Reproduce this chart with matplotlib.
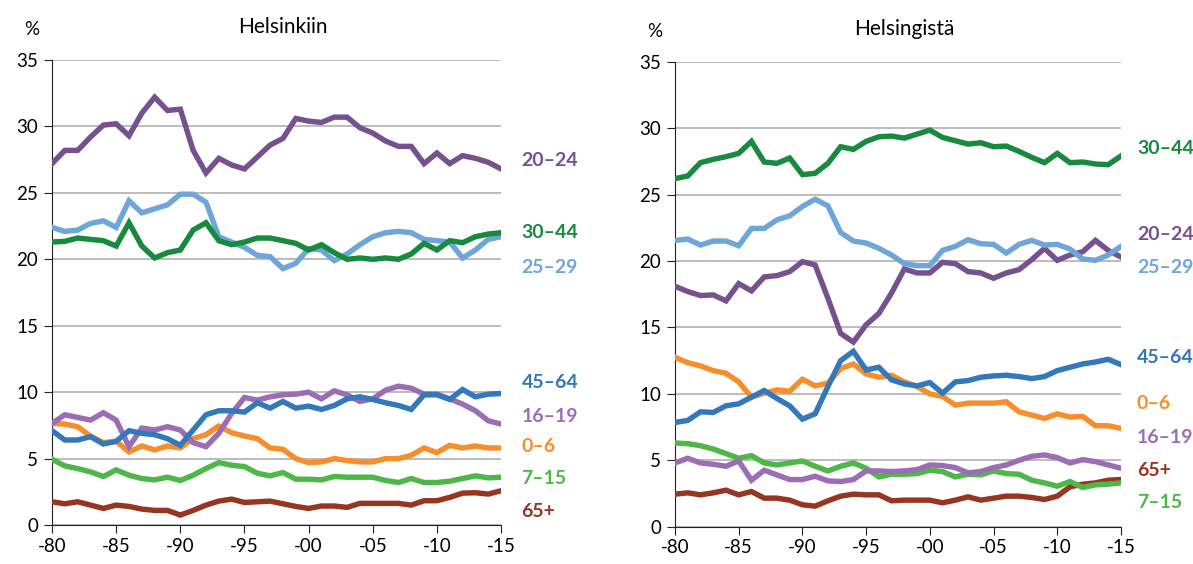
import matplotlib
matplotlib.use("Agg")
import matplotlib.pyplot as plt

plt.rcParams['font.family'] = ['Lato', 'DejaVu Sans']

vuodet = list(range(1980, 2016))
ryhmat = ["0–6", "7–15", "16–19", "20–24", "25–29", "30–44", "45–64", "65+"]
varit = {
    "0–6": "#F78E2C",
    "7–15": "#4DB848",
    "16–19": "#9B6DB5",
    "20–24": "#77508F",
    "25–29": "#6EA6DA",
    "30–44": "#178A3E",
    "45–64": "#3478BC",
    "65+": "#963520",
}

# Helsinkiin (muuttaneet Helsinkiin), %
helsinkiin = {
    "20–24": [27.2, 28.2, 28.2, 29.2, 30.1, 30.2, 29.3, 31.0, 32.2, 31.2, 31.3, 28.2,
              26.5, 27.6, 27.1, 26.8, 27.7, 28.6, 29.1, 30.6, 30.4, 30.3, 30.7, 30.7,
              29.9, 29.5, 28.9, 28.5, 28.5, 27.2, 28.0, 27.2, 27.8, 27.6, 27.3, 26.8],
    "25–29": [22.4, 22.1, 22.2, 22.7, 22.9, 22.4, 24.4, 23.5, 23.8, 24.1, 24.9, 24.9,
              24.3, 21.7, 21.3, 20.9, 20.3, 20.2, 19.3, 19.7, 20.8, 20.7, 19.9, 20.4,
              21.1, 21.7, 22.0, 22.1, 22.0, 21.5, 21.4, 21.3, 20.1, 20.7, 21.5, 21.7],
    "30–44": [21.3, 21.35, 21.6, 21.5, 21.4, 21.0, 22.75, 21.0, 20.1, 20.5, 20.7, 22.2,
              22.75, 21.4, 21.1, 21.3, 21.6, 21.6, 21.4, 21.2, 20.7, 21.1, 20.5, 20.0,
              20.1, 20.0, 20.1, 20.0, 20.4, 21.2, 20.7, 21.4, 21.25, 21.7, 21.9, 22.0],
    "45–64": [7.1, 6.4, 6.4, 6.65, 6.1, 6.3, 7.1, 6.9, 6.8, 6.5, 6.0, 7.15,
              8.3, 8.6, 8.6, 8.5, 9.2, 8.8, 9.3, 8.8, 8.95, 8.7, 9.0, 9.5,
              9.65, 9.45, 9.2, 9.0, 8.7, 9.8, 9.8, 9.45, 10.2, 9.65, 9.85, 9.9],
    "16–19": [7.65, 8.3, 8.1, 7.9, 8.45, 7.9, 5.9, 7.3, 7.15, 7.4, 7.15, 6.2,
              5.9, 6.9, 8.4, 9.6, 9.4, 9.65, 9.8, 9.85, 10.0, 9.5, 10.1, 9.8,
              9.3, 9.5, 10.15, 10.45, 10.3, 9.85, 9.85, 9.5, 9.1, 8.6, 7.85, 7.6],
    "0–6": [7.65, 7.6, 7.4, 6.7, 6.2, 6.3, 5.5, 5.95, 5.65, 5.95, 5.8, 6.5,
            6.8, 7.45, 6.95, 6.7, 6.5, 5.8, 5.7, 5.0, 4.7, 4.75, 5.0, 4.85,
            4.75, 4.75, 5.0, 5.0, 5.25, 5.8, 5.45, 6.0, 5.8, 5.95, 5.8, 5.8],
    "7–15": [4.95, 4.45, 4.25, 4.0, 3.65, 4.15, 3.75, 3.5, 3.4, 3.6, 3.35, 3.75,
             4.25, 4.7, 4.5, 4.4, 3.9, 3.7, 3.95, 3.45, 3.45, 3.4, 3.65, 3.6,
             3.6, 3.6, 3.35, 3.2, 3.5, 3.2, 3.2, 3.3, 3.5, 3.7, 3.55, 3.6],
    "65+": [1.75, 1.6, 1.75, 1.5, 1.25, 1.5, 1.4, 1.2, 1.1, 1.1, 0.75, 1.1,
            1.5, 1.8, 1.95, 1.7, 1.75, 1.8, 1.6, 1.4, 1.25, 1.43, 1.43, 1.33,
            1.63, 1.63, 1.63, 1.63, 1.5, 1.83, 1.83, 2.08, 2.4, 2.43, 2.33, 2.58],
}

# Helsingistä (muuttaneet Helsingistä), %
helsingista = {
    "30–44": [26.2, 26.4, 27.4, 27.65, 27.85, 28.1, 29.0, 27.45, 27.35, 27.75, 26.5, 26.6,
              27.35, 28.6, 28.4, 29.0, 29.35, 29.4, 29.25, 29.55, 29.85, 29.3, 29.05, 28.8,
              28.9, 28.6, 28.65, 28.25, 27.8, 27.4, 28.1, 27.4, 27.45, 27.3, 27.25, 27.9],
    "25–29": [21.55, 21.65, 21.2, 21.5, 21.5, 21.15, 22.45, 22.45, 23.1, 23.4, 24.1, 24.65,
              24.15, 22.15, 21.5, 21.35, 20.95, 20.45, 19.8, 19.65, 19.65, 20.8, 21.1, 21.6,
              21.3, 21.25, 20.6, 21.25, 21.55, 21.2, 21.25, 20.9, 20.15, 20.05, 20.45, 21.1],
    "20–24": [18.1, 17.7, 17.4, 17.45, 17.0, 18.3, 17.75, 18.8, 18.9, 19.2, 19.95, 19.7,
              17.2, 14.55, 13.9, 15.2, 16.05, 17.6, 19.4, 19.1, 19.1, 19.9, 19.8, 19.2,
              19.1, 18.7, 19.1, 19.35, 20.1, 20.95, 20.05, 20.45, 20.7, 21.55, 20.8, 20.3],
    "45–64": [7.85, 8.0, 8.65, 8.6, 9.1, 9.25, 9.75, 10.25, 9.65, 9.1, 8.1, 8.5,
              10.55, 12.5, 13.2, 11.8, 12.0, 11.05, 10.75, 10.6, 10.85, 10.05, 10.9, 11.0,
              11.25, 11.35, 11.4, 11.3, 11.15, 11.3, 11.75, 12.0, 12.25, 12.4, 12.6, 12.2],
    "0–6": [12.75, 12.35, 12.1, 11.75, 11.55, 10.9, 9.75, 10.05, 10.3, 10.2, 11.1, 10.6,
            10.8, 11.9, 12.25, 11.5, 11.25, 11.4, 10.9, 10.55, 10.0, 9.8, 9.15, 9.3,
            9.3, 9.3, 9.4, 8.65, 8.4, 8.15, 8.5, 8.25, 8.3, 7.6, 7.6, 7.4],
    "7–15": [6.3, 6.25, 6.1, 5.85, 5.5, 5.15, 5.35, 4.8, 4.65, 4.8, 4.95, 4.55,
             4.2, 4.55, 4.8, 4.4, 3.75, 3.95, 3.95, 4.0, 4.25, 4.15, 3.75, 3.95,
             3.9, 4.2, 4.0, 3.95, 3.5, 3.3, 3.05, 3.4, 2.95, 3.15, 3.2, 3.3],
    "16–19": [4.8, 5.15, 4.8, 4.7, 4.55, 4.95, 3.5, 4.25, 3.9, 3.55, 3.55, 3.8,
              3.45, 3.4, 3.55, 4.2, 4.2, 4.15, 4.2, 4.3, 4.65, 4.6, 4.45, 4.05,
              4.15, 4.45, 4.65, 5.0, 5.3, 5.4, 5.2, 4.8, 5.05, 4.9, 4.65, 4.4],
    "65+": [2.45, 2.55, 2.4, 2.55, 2.75, 2.4, 2.65, 2.15, 2.15, 2.0, 1.65, 1.55,
            1.95, 2.3, 2.45, 2.4, 2.4, 1.95, 2.0, 2.0, 2.0, 1.8, 2.0, 2.25,
            2.0, 2.15, 2.3, 2.3, 2.2, 2.05, 2.3, 3.0, 3.2, 3.3, 3.5, 3.55],
}

# selitteiden korkeus oikeassa reunassa
tekstit_vasen = {"20–24": 27.4, "30–44": 22.05, "25–29": 19.4, "45–64": 10.7,
                 "16–19": 8.2, "0–6": 5.9, "7–15": 3.5, "65+": 1.05}
tekstit_oikea = {"30–44": 28.5, "20–24": 22.0, "25–29": 19.5, "45–64": 12.7,
                 "0–6": 9.3, "16–19": 6.75, "65+": 4.2, "7–15": 1.8}

piirtojarjestys = ["65+", "7–15", "0–6", "16–19", "45–64", "20–24", "25–29", "30–44"]

fig = plt.figure(figsize=(11.93, 5.64), dpi=100)
ax1 = fig.add_axes([0.0436, 0.0691, 0.3764, 0.8245])
ax2 = fig.add_axes([0.5658, 0.0661, 0.3738, 0.8245])

xtikit = list(range(1980, 2016, 5))
xnimet = ["-" + str(v)[2:] for v in xtikit]

for ax, data, tekstit, otsikko, vali in [(ax1, helsinkiin, tekstit_vasen, "Helsinkiin", 1.6),
                                         (ax2, helsingista, tekstit_oikea, "Helsingistä", 1.25)]:
    for r in piirtojarjestys:
        ax.plot(vuodet, data[r], color=varit[r], lw=3.9, solid_joinstyle='miter', zorder=3)
    for r, y in tekstit.items():
        ax.text(2015 + vali, y, r, color=varit[r], fontsize=14, fontweight='bold',
                va='center', ha='left', clip_on=False)
    ax.set_xlim(1980, 2015)
    ax.set_ylim(0, 35)
    ax.set_yticks(range(0, 36, 5))
    ax.set_xticks(xtikit)
    ax.set_xticklabels(xnimet)
    ax.grid(axis='y', color='#b0b0b0', lw=1.2, zorder=0)
    ax.spines['top'].set_visible(False)
    ax.spines['right'].set_visible(False)
    ax.spines['left'].set_color('#222222')
    ax.spines['bottom'].set_color('#222222')
    ax.tick_params(axis='both', labelsize=13.5, length=6, color='#222222', pad=3)
    ax.tick_params(axis='y', pad=4)
    ax.set_axisbelow(True)
    ax.text(-0.045, 1.065, "%", transform=ax.transAxes, fontsize=13.5, ha='center', va='center')
    ax.text(0.515, 1.07, otsikko, transform=ax.transAxes, fontsize=15, ha='center', va='center')

fig.savefig("out.png", dpi=100)
